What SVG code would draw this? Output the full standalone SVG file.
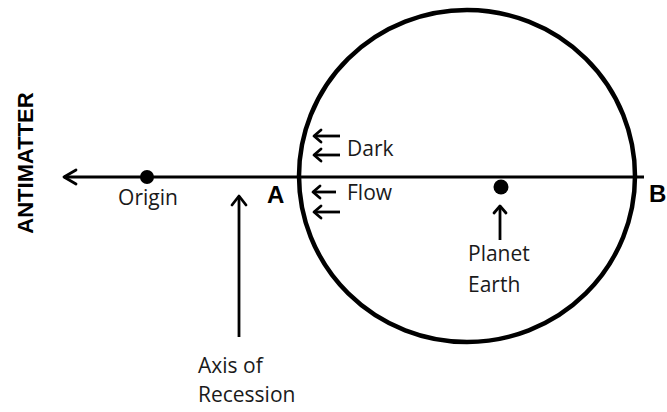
<svg xmlns="http://www.w3.org/2000/svg" width="667" height="412" viewBox="0 0 667 412">
<style>
.lbl{font-family:"Open Sans","Noto Sans",sans-serif;font-size:21px;fill:#1a1a1a}
.bold{font-family:"Liberation Sans",Arial,sans-serif;font-weight:bold;fill:#000}
.ln{stroke:#000;stroke-width:2.8;fill:none}
.ah{stroke:#000;stroke-width:2.8;fill:none;stroke-linecap:round;stroke-linejoin:round}
</style>
<rect width="667" height="412" fill="#fff"/>
<g id="sphere"><ellipse cx="467" cy="176" rx="168" ry="166" fill="none" stroke="#000" stroke-width="4.5"/></g>
<g id="connectors">
  <line class="ln" x1="64" y1="177" x2="644" y2="177"/>
  <polyline class="ah" points="76,170 64,177 76,184"/>
  <line class="ln" x1="239" y1="196" x2="239" y2="337"/>
  <polyline class="ah" points="232,205 239,196 246,205"/>
  <line class="ln" x1="500" y1="206" x2="500" y2="240"/>
  <polyline class="ah" points="494,213 500,206 506,213"/>
</g>
<g id="dark-flow-arrows">
  <line class="ln" x1="314" y1="136" x2="340" y2="136"/><polyline class="ah" points="321,130 314,136 321,142"/>
  <line class="ln" x1="314" y1="155" x2="340" y2="155"/><polyline class="ah" points="321,149 314,155 321,161"/>
  <line class="ln" x1="313" y1="192" x2="336" y2="192"/><polyline class="ah" points="320,186 313,192 320,198"/>
  <line class="ln" x1="314" y1="212" x2="340" y2="212"/><polyline class="ah" points="321,206 314,212 321,218"/>
</g>
<g id="origin"><circle cx="147" cy="177" r="7" fill="#000"/><text class="lbl" x="148" y="205" text-anchor="middle">Origin</text></g>
<g id="earth"><circle cx="501" cy="187" r="7.5" fill="#000"/><text class="lbl" x="468" y="261">Planet</text><text class="lbl" x="468" y="292">Earth</text></g>
<g id="labels">
  <text class="lbl" x="347" y="156">Dark</text>
  <text class="lbl" x="347" y="200">Flow</text>
  <text class="lbl" x="198" y="373">Axis of</text>
  <text class="lbl" x="198" y="402">Recession</text>
  <text class="bold" x="267" y="203" font-size="24">A</text>
  <text class="bold" x="649" y="202" font-size="24">B</text>
  <text class="bold" font-size="22" transform="translate(33,163) rotate(-90)" text-anchor="middle">ANTIMATTER</text>
</g>
</svg>
